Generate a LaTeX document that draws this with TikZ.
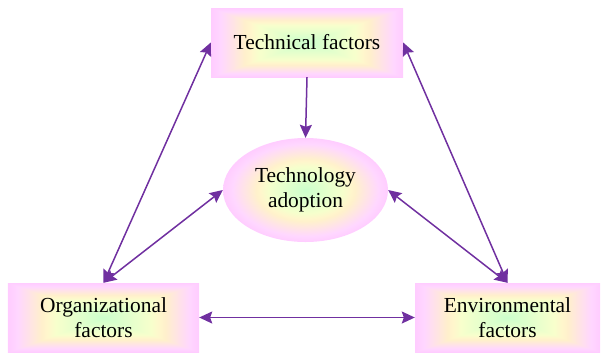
\documentclass[tikz,border=0pt]{standalone}
\usepackage{fontspec}
\setmainfont{Liberation Serif}
\usetikzlibrary{arrows.meta,shapes.geometric}

% Glow fill for the boxes: mint centre, cream middle, pink rim (square distance)
\pgfdeclarefunctionalshading{rectglow}{\pgfpoint{-50bp}{-50bp}}{\pgfpoint{50bp}{50bp}}{}{abs exch abs 2 copy lt {exch} if pop 25 div dup 1 gt {pop 1} if dup dup 0.65 sub dup 0 lt {pop 0} if 0.8 mul 0.8 add dup 1 gt {pop 1} if exch 0.5 sub dup 0 lt {pop 0} if 0.4 mul 1 exch sub exch 3 -1 roll 0.34 mul 0.8 add dup 1 gt {pop 1} if 3 1 roll}

% Same colours, round distance, for the oval
\pgfdeclarefunctionalshading{ovalglow}{\pgfpoint{-50bp}{-50bp}}{\pgfpoint{50bp}{50bp}}{}{dup mul exch dup mul add sqrt 25 div dup 1 gt {pop 1} if dup dup 0.6 sub dup 0 lt {pop 0} if 0.7 mul 0.8 add dup 1 gt {pop 1} if exch 0.45 sub dup 0 lt {pop 0} if 0.36 mul 1 exch sub exch 3 -1 roll 0.36 mul 0.8 add dup 1 gt {pop 1} if 3 1 roll}

\definecolor{linkpurple}{RGB}{112,48,160}

\tikzset{
  labeltext/.style={font=\rmfamily\fontsize{21.5}{25}\selectfont, align=center, text=black},
  factor/.style={rectangle, shading=rectglow, minimum height=69bp, inner sep=0pt, labeltext},
  adoptnode/.style={ellipse, shading=ovalglow, minimum width=165bp, minimum height=104bp, inner sep=0pt, labeltext},
  link/.style={draw=linkpurple, line width=1.5bp, {Stealth[length=13bp,width=12bp,inset=2bp]}-{Stealth[length=13bp,width=12bp,inset=2bp]}},
  onelink/.style={draw=linkpurple, line width=1.5bp, -{Stealth[length=13bp,width=12bp,inset=2bp]}},
}

\begin{document}
\begin{tikzpicture}[x=1bp,y=-1bp]
  \useasboundingbox (0,0) rectangle (602,354);

  \node[factor, minimum width=192bp] (tech) at (307,42.5) {Technical factors};
  \node[adoptnode] (adopt) at (305.5,190) {Technology\\adoption};
  \node[factor, minimum width=191bp] (orgn) at (103.5,317.5) {Organizational\\factors};
  \node[factor, minimum width=185bp] (envr) at (507.5,317.5) {Environmental\\factors};

  \draw[onelink] (tech.south) -- (adopt.north);
  \draw[link] (tech.west) -- (orgn.north);
  \draw[link] (tech.east) -- (envr.north);
  \draw[link] (adopt.west) -- (orgn.north);
  \draw[link] (adopt.east) -- (envr.north);
  \draw[link] (orgn.east) -- (envr.west);
\end{tikzpicture}
\end{document}
